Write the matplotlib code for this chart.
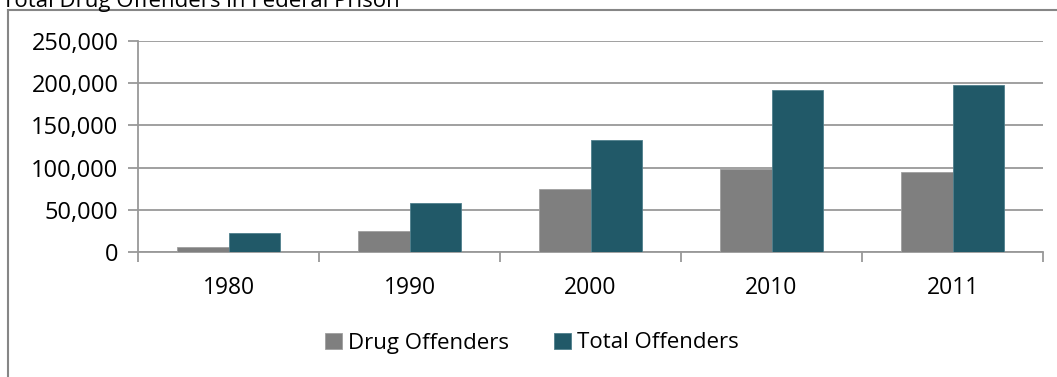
"""Total drug offenders in federal prison, grouped bar chart."""

import matplotlib

matplotlib.use("Agg")
import matplotlib.pyplot as plt  # noqa: E402
import numpy as np  # noqa: E402
from matplotlib.lines import Line2D  # noqa: E402
from matplotlib.ticker import FuncFormatter, MultipleLocator  # noqa: E402

years = ["1980", "1990", "2000", "2010", "2011"]
drug_offenders = [5500, 24500, 75000, 98000, 95000]
total_offenders = [22900, 57700, 132700, 191500, 198000]

DRUG_COLOR = "#7f7f7f"
TOTAL_COLOR = "#215968"
LINE_COLOR = "#999999"
FONT = "Open Sans"

W, H = 1057, 377
fig = plt.figure(figsize=(W / 100, H / 100), dpi=100)
ax = fig.add_axes([138 / W, 1 - 252 / H, (1043 - 138) / W, (252 - 41) / H])

x = np.arange(len(years))
width = 0.287
ax.bar(x - width / 2, drug_offenders, width, color=DRUG_COLOR, label="Drug Offenders",
       edgecolor="#a0a0a0", linewidth=0.6, zorder=3)
ax.bar(x + width / 2, total_offenders, width, color=TOTAL_COLOR, label="Total Offenders",
       edgecolor="#4f7f8c", linewidth=0.6, zorder=3)

ax.set_xlim(-0.5, len(years) - 0.5)
ax.set_ylim(0, 250000)
ax.yaxis.set_major_locator(MultipleLocator(50000))
ax.yaxis.set_major_formatter(FuncFormatter(lambda v, _: f"{v:,.0f}"))
ax.grid(axis="y", color=LINE_COLOR, linewidth=1.3, zorder=0)

ax.set_xticks(x)
ax.set_xticklabels(years)
ax.set_xticks(np.arange(-0.5, len(years)), minor=True)
ax.tick_params(axis="x", which="major", length=0, pad=17, labelsize=16.5)
ax.tick_params(axis="x", which="minor", length=7, width=1.3, color=LINE_COLOR)
ax.tick_params(axis="y", length=7, width=1.3, color=LINE_COLOR, pad=7, labelsize=17)
for label in ax.get_xticklabels() + ax.get_yticklabels():
    label.set_family(FONT)

for side in ("top", "right"):
    ax.spines[side].set_visible(False)
for side in ("left", "bottom"):
    ax.spines[side].set_color(LINE_COLOR)
    ax.spines[side].set_linewidth(1.3)

ax.legend(loc="center", bbox_to_anchor=(532 / W, 1 - 343 / H), bbox_transform=fig.transFigure,
          ncol=2, frameon=False, handlelength=0.75, handleheight=0.75, handletextpad=0.3,
          columnspacing=2.0, prop={"family": FONT, "size": 16})

fig.text(2 / W, 1 - 7.5 / H, "Total Drug Offenders in Federal Prison", family=FONT,
         fontsize=16, va="baseline", ha="left")

# chart area border (right and bottom edges fall outside the image)
fig.add_artist(Line2D([8 / W, 8 / W], [0, 1 - 10 / H], color="#868686", linewidth=1.5))
fig.add_artist(Line2D([8 / W, 1], [1 - 10 / H, 1 - 10 / H], color="#868686", linewidth=1.5))

fig.savefig("out.png", dpi=100)
plt.close(fig)
